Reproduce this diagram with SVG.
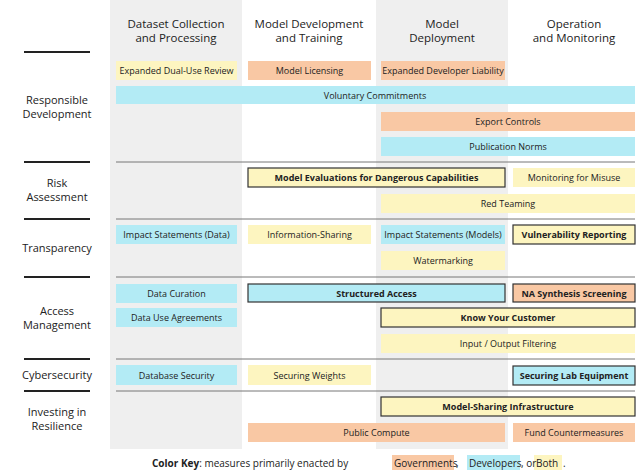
<svg xmlns="http://www.w3.org/2000/svg" width="640" height="476" viewBox="0 0 640 476">
<style>
text{font-family:"Open Sans","Noto Sans",sans-serif;fill:#222;text-anchor:middle}
.h{font-size:11.5px}
.l{font-size:11px}
.b{font-size:9px}
.bb{font-size:9px;font-weight:bold}
.y{fill:#fdf5c0}.o{fill:#f9c8a4}.c{fill:#b3ebf5}
.k{stroke:#333;stroke-width:1.2}
.sep{stroke:#777;stroke-width:1}
.ls{stroke:#222;stroke-width:2}
</style>
<rect width="640" height="476" fill="#fff"/>
<rect x="110" y="0" width="132" height="449" fill="#efefef"/>
<rect x="376" y="0" width="132" height="449" fill="#efefef"/>
<g id="headers">
<text class="h" x="176" y="28">Dataset Collection</text><text class="h" x="176" y="42">and Processing</text>
<text class="h" x="309" y="28">Model Development</text><text class="h" x="309" y="42">and Training</text>
<text class="h" x="442" y="28">Model</text><text class="h" x="442" y="42">Deployment</text>
<text class="h" x="574" y="28">Operation</text><text class="h" x="574" y="42">and Monitoring</text>
</g>
<g id="connectors">
<line class="ls" x1="24" y1="52" x2="90" y2="52"/>
<line class="ls" x1="24" y1="162" x2="90" y2="162"/>
<line class="ls" x1="24" y1="219" x2="90" y2="219"/>
<line class="ls" x1="24" y1="277" x2="90" y2="277"/>
<line class="ls" x1="24" y1="359" x2="90" y2="359"/>
<line class="ls" x1="24" y1="391" x2="90" y2="391"/>
<line class="sep" x1="116" y1="162" x2="635" y2="162"/>
<line class="sep" x1="116" y1="219" x2="635" y2="219"/>
<line class="sep" x1="116" y1="277" x2="635" y2="277"/>
<line class="sep" x1="116" y1="359" x2="635" y2="359"/>
<line class="sep" x1="116" y1="391" x2="635" y2="391"/>
</g>
<g id="rowlabels">
<text class="l" x="57" y="104">Responsible</text><text class="l" x="57" y="118">Development</text>
<text class="l" x="57" y="187">Risk</text><text class="l" x="57" y="201">Assessment</text>
<text class="l" x="57" y="252">Transparency</text>
<text class="l" x="57" y="315">Access</text><text class="l" x="57" y="329">Management</text>
<text class="l" x="57" y="379">Cybersecurity</text>
<text class="l" x="57" y="416">Investing in</text><text class="l" x="57" y="430">Resilience</text>
</g>
<g id="n1"><rect class="y" x="116" y="61" width="121" height="19"/><text class="b" x="176.5" y="74">Expanded Dual-Use Review</text></g>
<g id="n2"><rect class="o" x="248" y="61" width="123" height="19"/><text class="b" x="309.5" y="74">Model Licensing</text></g>
<g id="n3"><rect class="o" x="381" y="61" width="124" height="19"/><text class="b" x="443" y="74">Expanded Developer Liability</text></g>
<g id="n4"><rect class="c" x="116" y="86" width="519" height="18"/><text class="b" x="375" y="98.5">Voluntary Commitments</text></g>
<g id="n5"><rect class="o" x="381" y="112" width="254" height="19"/><text class="b" x="508" y="125">Export Controls</text></g>
<g id="n6"><rect class="c" x="381" y="137" width="254" height="19"/><text class="b" x="508" y="150">Publication Norms</text></g>
<g id="n7"><rect class="y k" x="248" y="168" width="257" height="19"/><text class="bb" x="376.5" y="181">Model Evaluations for Dangerous Capabilities</text></g>
<g id="n8"><rect class="y" x="513" y="168" width="122" height="19"/><text class="b" x="574" y="181">Monitoring for Misuse</text></g>
<g id="n9"><rect class="y" x="381" y="194" width="254" height="19"/><text class="b" x="508" y="207">Red Teaming</text></g>
<g id="n10"><rect class="c" x="116" y="225" width="121" height="19"/><text class="b" x="176.5" y="238">Impact Statements (Data)</text></g>
<g id="n11"><rect class="y" x="248" y="225" width="123" height="19"/><text class="b" x="309.5" y="238">Information-Sharing</text></g>
<g id="n12"><rect class="c" x="381" y="225" width="124" height="19"/><text class="b" x="443" y="238">Impact Statements (Models)</text></g>
<g id="n13"><rect class="y k" x="513" y="225" width="122" height="19"/><text class="bb" x="574" y="238">Vulnerability Reporting</text></g>
<g id="n14"><rect class="y" x="381" y="251" width="124" height="19"/><text class="b" x="443" y="264">Watermarking</text></g>
<g id="n15"><rect class="c" x="116" y="284" width="121" height="19"/><text class="b" x="176.5" y="297">Data Curation</text></g>
<g id="n16"><rect class="c k" x="248" y="284" width="257" height="18"/><text class="bb" x="376.5" y="296.5">Structured Access</text></g>
<g id="n17"><rect class="o k" x="513" y="284" width="122" height="18"/><text class="bb" x="574" y="296.5">NA Synthesis Screening</text></g>
<g id="n18"><rect class="c" x="116" y="308" width="121" height="19"/><text class="b" x="176.5" y="321">Data Use Agreements</text></g>
<g id="n19"><rect class="y k" x="381" y="308" width="254" height="19"/><text class="bb" x="508" y="321">Know Your Customer</text></g>
<g id="n20"><rect class="y" x="381" y="334" width="254" height="19"/><text class="b" x="508" y="347">Input / Output Filtering</text></g>
<g id="n21"><rect class="c" x="116" y="365" width="121" height="20"/><text class="b" x="176.5" y="378.5">Database Security</text></g>
<g id="n22"><rect class="y" x="248" y="365" width="123" height="20"/><text class="b" x="309.5" y="378.5">Securing Weights</text></g>
<g id="n23"><rect class="c k" x="513" y="366" width="122" height="19"/><text class="bb" x="574" y="379">Securing Lab Equipment</text></g>
<g id="n24"><rect class="y k" x="381" y="397" width="254" height="19"/><text class="bb" x="508" y="410">Model-Sharing Infrastructure</text></g>
<g id="n25"><rect class="o" x="248" y="423" width="257" height="19"/><text class="b" x="376.5" y="436">Public Compute</text></g>
<g id="n26"><rect class="o" x="513" y="423" width="122" height="19"/><text class="b" x="574" y="436">Fund Countermeasures</text></g>
<g id="key">
<rect class="o" x="392" y="455" width="62" height="15"/>
<rect class="c" x="467" y="455" width="53" height="15"/>
<rect class="y" x="534" y="455" width="28" height="15"/>
<text x="152" y="467" style="font-size:10px;text-anchor:start"><tspan font-weight="bold">Color Key</tspan>: measures primarily enacted by <tspan x="394">Governments</tspan><tspan x="456">,</tspan><tspan x="469">Developers</tspan><tspan x="521">, or</tspan><tspan x="536">Both</tspan><tspan x="563">.</tspan></text>
</g>
</svg>
